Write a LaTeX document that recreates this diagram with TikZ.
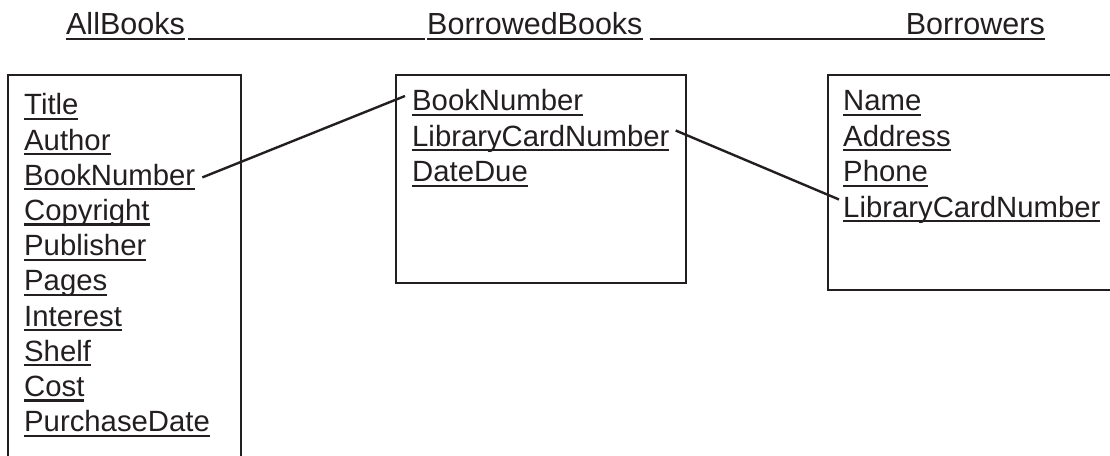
\documentclass[tikz,border=0pt]{standalone}
\usepackage{fontspec}
\setmainfont{Liberation Sans}
\definecolor{ink}{HTML}{231F20}
\newcommand\uln[1]{\setbox0\hbox{#1}\rlap{\rule[-5pt]{\wd0}{2.2pt}}\box0}
\tikzset{
  field/.style={anchor=base west, inner sep=0pt, text=ink, font=\fontsize{29.3}{35}\selectfont},
  heading/.style={field, font=\fontsize{30.5}{36}\selectfont},
  table/.style={draw=ink, line width=2.8pt},
  link/.style={draw=ink, line width=2.4pt},
}
\begin{document}
\begin{tikzpicture}[x=1pt, y=1pt]
  \useasboundingbox (0,0) rectangle (1110,455);
  % header line
  \node[heading, anchor=base east] (hdAll) at (185,420) {\uln{AllBooks}};
  \node[heading] (hdBorrowed) at (427,420) {\uln{BorrowedBooks}};
  \node[heading, anchor=base east] (hdBorrowers) at (1045,420) {\uln{Borrowers}};
  \draw[ink, line width=2.2pt] ([shift={(3,-3.9)}]hdAll.base east) -- ([shift={(-2,-3.9)}]hdBorrowed.base west);
  \draw[ink, line width=2.2pt] ([shift={(7,-3.9)}]hdBorrowed.base east) -- ([yshift=-3.9]hdBorrowers.base west);

  % tables
  \draw[table] (8,-2) -- (8,380) -- (241,380) -- (241,-2);
  \draw[table] (396,380) rectangle (686,172);
  \draw[table] (1112,380) -- (828,380) -- (828,165) -- (1112,165);

  \foreach \f [count=\i from 0] in {Title,Author,BookNumber,Copyright,Publisher,Pages,Interest,Shelf,Cost,PurchaseDate}
    \node[field] (all-\f) at (24,340-35.2*\i) {\uln{\f}};
  \foreach \f [count=\i from 0] in {BookNumber,LibraryCardNumber,DateDue}
    \node[field] (brw-\f) at (412,344-35.5*\i) {\uln{\f}};
  \foreach \f [count=\i from 0] in {Name,Address,Phone,LibraryCardNumber}
    \node[field] (bor-\f) at (843,344-35.5*\i) {\uln{\f}};

  % keys
  \draw[link] ([shift={(7,8)}]all-BookNumber.base east) -- ([shift={(-7,15)}]brw-BookNumber.base west);
  \draw[link] ([shift={(6,16)}]brw-LibraryCardNumber.base east) -- ([shift={(-4,18)}]bor-LibraryCardNumber.base west);
\end{tikzpicture}
\end{document}
